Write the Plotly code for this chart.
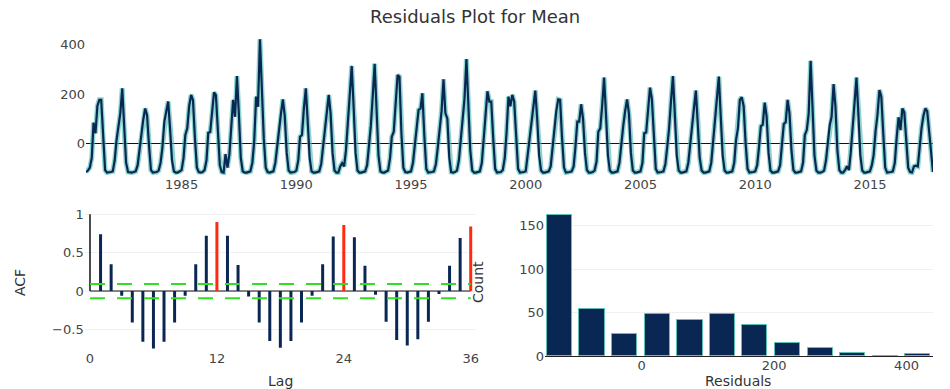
import plotly.graph_objects as go
import pandas as pd

# ---- residual series (monthly, Nov 1980 - Oct 2017) ----
y1980 = [-118, -112]
y1981 = [-100, -60, 83, 40, 151, 176, 176, 20, -110, -120, -120, -118]
y1982 = [-115, -70, 10, 67, 121, 223, 60, -80, -118, -120, -120, -118]
y1983 = [-115, -90, -30, 40, 95, 141, 114, -10, -110, -120, -120, -118]
y1984 = [-112, -80, -20, 87, 128, 169, 60, -70, -115, -120, -120, -116]
y1985 = [-110, -60, 33, 60, 150, 196, 175, 20, -100, -118, -120, -118]
y1986 = [-110, -70, 42, 45, 120, 206, 195, 40, -90, -118, -120, -45]
y1987 = [-100, -45, 80, 176, 107, 273, 120, -60, -115, -120, -120, -118]
y1988 = [-115, -80, 5, 189, 148, 423, 190, 20, -100, -118, -120, -118]
y1989 = [-115, -80, -10, 46, 120, 178, 110, -40, -112, -120, -120, -118]
y1990 = [-112, -70, 26, 33, 140, 223, 90, -60, -115, -120, -120, -118]
y1991 = [-115, -85, -20, 60, 140, 196, 120, -40, -112, -120, -120, -95]
y1992 = [-82, -95, -30, 94, 200, 314, 150, -40, -112, -120, -120, -118]
y1993 = [-115, -90, -20, 70, 189, 323, 140, -50, -115, -120, -120, -116]
y1994 = [-112, -60, 26, 46, 160, 277, 270, 40, -100, -118, -120, -118]
y1995 = [-115, -80, -10, 60, 135, 140, 203, 30, -105, -120, -120, -118]
y1996 = [-115, -85, -20, 50, 130, 260, 122, 100, -60, -118, -120, -118]
y1997 = [-112, -70, 10, 90, 180, 342, 150, -30, -112, -120, -120, -118]
y1998 = [-115, -80, 10, 100, 211, 169, 169, 20, -105, -120, -120, -118]
y1999 = [-110, -60, 40, 189, 150, 196, 170, 10, -105, -120, -120, -118]
y2000 = [-115, -49, 10, 60, 140, 214, 100, -50, -112, -120, -120, -118]
y2001 = [-115, -95, -20, 60, 130, 178, 176, 20, -100, -120, -120, -118]
y2002 = [-115, -95, -20, 87, 87, 158, 100, -40, -110, -120, -120, -118]
y2003 = [-112, -75, 46, 60, 150, 267, 120, -50, -112, -120, -120, -118]
y2004 = [-115, -80, 10, 70, 130, 178, 120, -40, -112, -120, -120, -118]
y2005 = [-115, -80, 40, 43, 140, 226, 180, 10, -105, -120, -120, -118]
y2006 = [-115, -85, -20, 60, 170, 273, 120, -50, -112, -120, -120, -118]
y2007 = [-115, -80, 0, 70, 140, 214, 100, -60, -112, -120, -120, -118]
y2008 = [-115, -80, 0, 80, 160, 271, 110, -50, -112, -120, -120, -118]
y2009 = [-115, -80, 12, 60, 176, 187, 150, 0, -105, -120, -120, -118]
y2010 = [-115, -90, -20, 69, 75, 165, 110, -40, -112, -120, -120, -118]
y2011 = [-115, -90, -20, 78, 85, 176, 120, -30, -110, -120, -120, -118]
y2012 = [-115, -80, 33, 53, 120, 335, 110, -50, -112, -120, -120, -118]
y2013 = [-112, -70, 0, 73, 107, 240, 150, -30, -110, -120, -120, -110]
y2014 = [-94, -110, -40, 60, 150, 267, 120, -50, -112, -120, -120, -118]
y2015 = [-115, -90, -49, 50, 114, 216, 190, 40, -100, -120, -120, -118]
y2016 = [-115, -80, 20, 105, 53, 141, 125, 20, -100, -118, -120, -95]
y2017 = [-92, -95, -10, 60, 110, 141, 130, 40, -60, -118]

series_start = "1980-11-01"
year_ticks = [1985, 1990, 1995, 2000, 2005, 2010, 2015]

# ---- ACF (lags 0..36) ----
acf_lags = list(range(0, 37))
acf_vals = [1.0, 0.74, 0.35, -0.06, -0.41, -0.66, -0.75, -0.66, -0.41, -0.06, 0.35, 0.72, 0.90,
            0.72, 0.34, -0.07, -0.41, -0.65, -0.74, -0.65, -0.41, -0.06, 0.35, 0.71, 0.86,
            0.70, 0.33, -0.05, -0.40, -0.64, -0.71, -0.63, -0.40, -0.04, 0.33, 0.69, 0.84]
seasonal_lags = [12, 24, 36]
acf_bound = 0.093

# ---- histogram of residuals ----
hist_centers = [-124, -75, -26, 24, 73, 122, 171, 220, 270, 319, 368, 417]
hist_counts = [163, 54, 25, 48, 41, 48, 36, 15, 9, 4, 0, 2]

# ---------------------------------------------------------------------------
resid = (y1980 + y1981 + y1982 + y1983 + y1984 + y1985 + y1986 + y1987 + y1988 + y1989 +
         y1990 + y1991 + y1992 + y1993 + y1994 + y1995 + y1996 + y1997 + y1998 + y1999 +
         y2000 + y2001 + y2002 + y2003 + y2004 + y2005 + y2006 + y2007 + y2008 + y2009 +
         y2010 + y2011 + y2012 + y2013 + y2014 + y2015 + y2016 + y2017)
dates = pd.date_range(series_start, periods=len(resid), freq="MS")

W, H = 950, 389
def px(x):
    return x / W
def py(y):
    return 1 - y / H

NAVY = "#0a2753"
TEAL = "rgba(80,190,180,0.65)"
FONT = "DejaVu Sans"

fig = go.Figure()

# top: residual time series
fig.add_trace(go.Scatter(x=dates, y=resid, mode="lines", line=dict(color=TEAL, width=5),
                         hoverinfo="skip", showlegend=False, xaxis="x", yaxis="y"))
fig.add_trace(go.Scatter(x=dates, y=resid, mode="lines", line=dict(color=NAVY, width=2.2),
                         showlegend=False, xaxis="x", yaxis="y"))

# ACF
zx, zy = [], []
rx, ry = [], []
for lag, v in zip(acf_lags, acf_vals):
    if lag == 0:
        continue
    if lag in seasonal_lags:
        rx += [lag, lag, None]; ry += [0, v, None]
    else:
        zx += [lag, lag, None]; zy += [0, v, None]
fig.add_trace(go.Scatter(x=[acf_lags[0], acf_lags[-1]], y=[0, 0], mode="lines",
                         line=dict(color="#111", width=1.2), showlegend=False, xaxis="x2", yaxis="y2"))
fig.add_trace(go.Scatter(x=zx, y=zy, mode="lines", line=dict(color=NAVY, width=3),
                         showlegend=False, xaxis="x2", yaxis="y2"))
fig.add_trace(go.Scatter(x=rx, y=ry, mode="lines", line=dict(color="#ff2a12", width=3),
                         showlegend=False, xaxis="x2", yaxis="y2"))
fig.add_trace(go.Scatter(x=[acf_lags[0], acf_lags[0]], y=[0, acf_vals[0]], mode="lines",
                         line=dict(color="#111", width=1.5), showlegend=False, xaxis="x2", yaxis="y2"))
for b in (acf_bound, -acf_bound):
    fig.add_trace(go.Scatter(x=[acf_lags[0], acf_lags[-1]], y=[b, b], mode="lines",
                             line=dict(color="#33dd22", width=2, dash="15px,12px"),
                             showlegend=False, xaxis="x2", yaxis="y2"))

# histogram
fig.add_trace(go.Bar(x=hist_centers, y=hist_counts, width=38,
                     marker=dict(color=NAVY, line=dict(color="#5cc0b5", width=1)),
                     showlegend=False, xaxis="x3", yaxis="y3"))

tickfont = dict(family=FONT, size=13, color="#444")
common = dict(automargin=False, ticks="", tickfont=tickfont, showline=False)
fig.update_layout(
    template="none",
    width=W, height=H,
    margin=dict(l=0, r=0, t=0, b=0, pad=0),
    paper_bgcolor="white", plot_bgcolor="white",
    font=dict(family=FONT, color="#444"),
    xaxis=dict(domain=[px(86), px(933)], type="date",
               range=[dates[0], dates[-1]],
               tickvals=[pd.Timestamp(f"{y}-01-01") for y in year_ticks],
               ticktext=[str(y) for y in year_ticks],
               showgrid=False, zeroline=False, anchor="y", **common),
    yaxis=dict(domain=[py(175), py(35)], range=[-130, 440],
               tickvals=[0, 200, 400], showgrid=False,
               zeroline=True, zerolinecolor="#111", zerolinewidth=1,
               anchor="x", **common),
    xaxis2=dict(domain=[px(84.7), px(476)], range=[-0.5, 36.5],
                tickvals=[0, 12, 24, 36], showgrid=False, zeroline=False,
                ticklabelstandoff=-3, anchor="y2", **common),
    yaxis2=dict(domain=[py(352.4), py(212)], range=[-0.8, 1.03],
                tickvals=[-0.5, 0, 0.5, 1], showgrid=True, gridcolor="#f0f0f0",
                zeroline=False, anchor="x2", **common),
    xaxis3=dict(domain=[px(545), px(933)], range=[-146, 440],
                tickvals=[0, 200, 400], showgrid=False, zeroline=False,
                automargin=False, ticks="", tickfont=tickfont, ticklabelstandoff=-3,
                showline=True, linecolor="#222", linewidth=1, anchor="y3"),
    yaxis3=dict(domain=[py(356), py(212)], range=[0, 166],
                tickvals=[0, 50, 100, 150], showgrid=True, gridcolor="#f0f0f0",
                zeroline=False, anchor="x3", **common),
    bargap=0,
    annotations=[
        dict(text="Residuals Plot for Mean", x=px(475), y=py(17), xref="paper", yref="paper",
             xanchor="center", yanchor="middle",
             showarrow=False, font=dict(family=FONT, size=18, color="#333")),
        dict(text="ACF", x=px(20), y=py(283), xref="paper", yref="paper", textangle=-90,
             xanchor="center", yanchor="middle",
             showarrow=False, font=dict(family=FONT, size=14, color="#333")),
        dict(text="Lag", x=px(280), y=py(381), xref="paper", yref="paper",
             xanchor="center", yanchor="middle",
             showarrow=False, font=dict(family=FONT, size=14, color="#333")),
        dict(text="Count", x=px(478), y=py(282), xref="paper", yref="paper", textangle=-90,
             xanchor="center", yanchor="middle",
             showarrow=False, font=dict(family=FONT, size=14, color="#333")),
        dict(text="Residuals", x=px(738), y=py(381), xref="paper", yref="paper",
             xanchor="center", yanchor="middle",
             showarrow=False, font=dict(family=FONT, size=14, color="#333")),
    ],
)

fig.write_html("out.html")
